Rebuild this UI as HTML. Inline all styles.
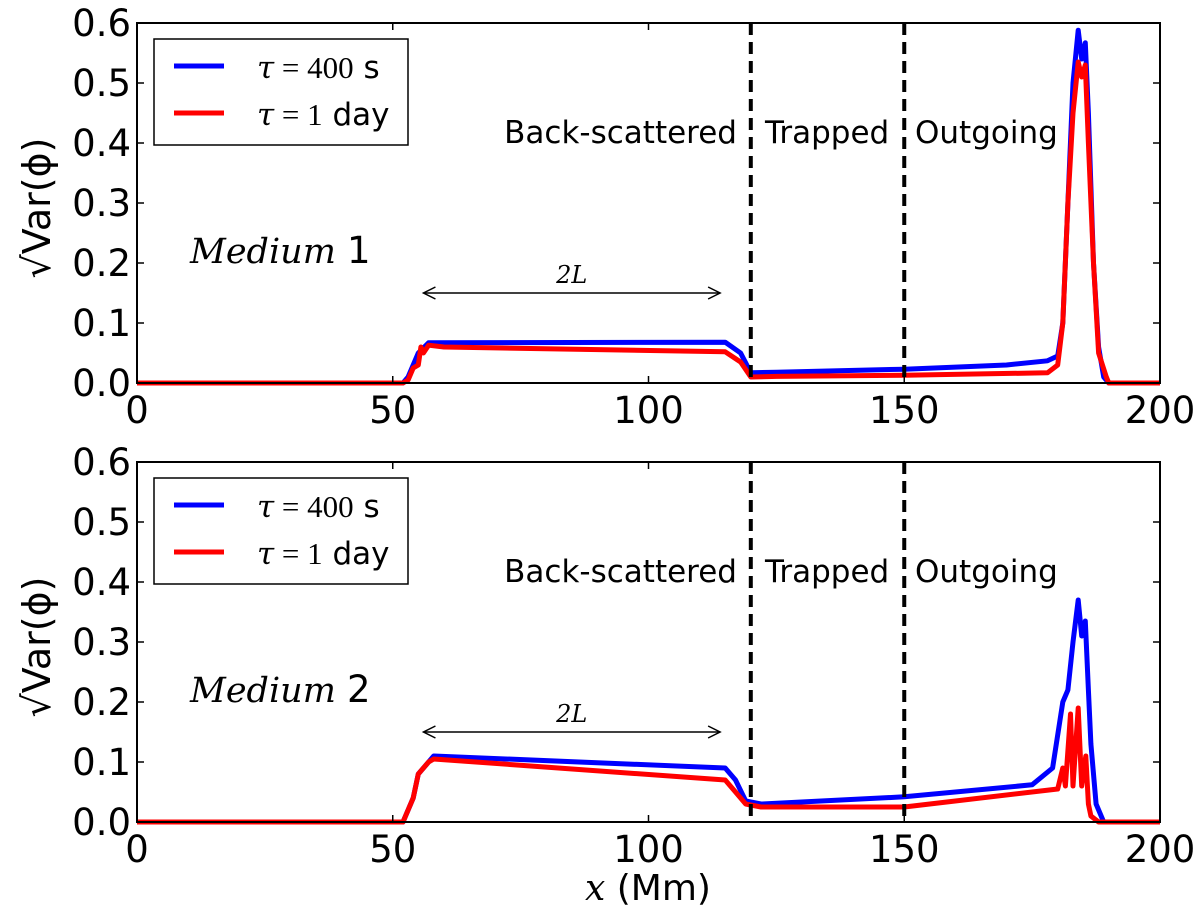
<!DOCTYPE html>
<html><head><meta charset="utf-8"><style>
body{margin:0;background:#fff;}
svg text{font-family:"DejaVu Sans","Liberation Sans",sans-serif;}
.serif{font-family:"DejaVu Serif","Liberation Serif",serif;font-style:italic;}
</style></head><body>
<svg id="chart" width="1200" height="919" xmlns="http://www.w3.org/2000/svg"></svg>
<script>
const xTicks=[0,50,100,150,200];
const yTicks=[0.0,0.1,0.2,0.3,0.4,0.5,0.6];
const regionBounds=[120,150];
const p1BlueX=[0,52,53,55,57,115,118,120,125,150,170,178,180,181,182,183,184,184.7,185.4,186,187,188,189,190,200];
const p1BlueY=[0,0,0.01,0.05,0.067,0.068,0.05,0.017,0.018,0.023,0.03,0.037,0.045,0.1,0.3,0.5,0.588,0.54,0.567,0.45,0.2,0.06,0.01,0,0];
const p1RedX=[0,52,53,54,55,55.5,56,57,60,115,118,120,125,150,178,180,181,182,183,184,184.7,185.4,186,187,188,189.5,190,200];
const p1RedY=[0,0,0.005,0.025,0.03,0.06,0.05,0.063,0.06,0.052,0.035,0.01,0.011,0.013,0.017,0.03,0.1,0.3,0.45,0.535,0.51,0.53,0.4,0.2,0.05,0.01,0,0];
const p2BlueX=[0,52,54,55,57,58,115,117,119,122,150,175,179,181,182,183,184,184.7,185.4,186,186.5,187.5,189,200];
const p2BlueY=[0,0,0.04,0.08,0.1,0.11,0.09,0.07,0.035,0.03,0.042,0.062,0.09,0.2,0.22,0.3,0.37,0.31,0.335,0.22,0.13,0.03,0,0];
const p2RedX=[0,52,54,55,57,58,115,117,119,122,150,180,181,181.5,182.5,183,184,184.7,185.5,186,186.5,188,200];
const p2RedY=[0,0,0.04,0.08,0.1,0.105,0.07,0.05,0.03,0.025,0.025,0.055,0.09,0.06,0.18,0.06,0.19,0.06,0.11,0.03,0.01,0,0];
const panels=[
 {top:23,bottom:383,blueX:p1BlueX,blueY:p1BlueY,redX:p1RedX,redY:p1RedY,label:"1",name:"top"},
 {top:462,bottom:822,blueX:p2BlueX,blueY:p2BlueY,redX:p2RedX,redY:p2RedY,label:"2",name:"bottom"}];
const NS="http://www.w3.org/2000/svg";
const svg=document.getElementById('chart');
const L=137,R=1160;
const sx=v=>L+(v/200)*(R-L);
function mk(tag,attrs,parent,text){const e=document.createElementNS(NS,tag);for(const k in attrs)e.setAttribute(k,attrs[k]);if(text!==undefined)e.textContent=text;(parent||svg).appendChild(e);return e;}
panels.forEach(p=>{
 const sy=v=>p.bottom-(v/0.6)*(p.bottom-p.top);
 const g=mk('g',{});
 
 
 const line=(xs,ys,col,nm)=>{const d=xs.map((x,i)=>(i?'L':'M')+sx(x).toFixed(1)+','+sy(ys[i]).toFixed(1)).join('');
  const e=mk('path',{d:d,fill:'none',stroke:col,'stroke-width':5,'stroke-linejoin':'round'},g);
  
  };
 line(p.blueX,p.blueY,'#0000ff','series-tau-400s');
 line(p.redX,p.redY,'#ff0000','series-tau-1day');
 regionBounds.forEach(b=>{const e=mk('line',{x1:sx(b),x2:sx(b),y1:p.top,y2:p.bottom,stroke:'#000','stroke-width':4,'stroke-dasharray':'12,7'},g);
  
  });
 const fr=mk('rect',{x:L,y:p.top,width:R-L,height:p.bottom-p.top,fill:'none',stroke:'#000','stroke-width':2},g);
 
 
 xTicks.forEach(t=>{mk('line',{x1:sx(t),x2:sx(t),y1:p.bottom,y2:p.bottom-7,stroke:'#000','stroke-width':1.5},g);mk('line',{x1:sx(t),x2:sx(t),y1:p.top,y2:p.top+7,stroke:'#000','stroke-width':1.5},g);
  const e=mk('text',{x:sx(t),y:p.bottom+40,'font-size':37,'text-anchor':'middle'},g,String(t));
  
  });
 yTicks.forEach(t=>{mk('line',{x1:L,x2:L+7,y1:sy(t),y2:sy(t),stroke:'#000','stroke-width':1.5},g);mk('line',{x1:R,x2:R-7,y1:sy(t),y2:sy(t),stroke:'#000','stroke-width':1.5},g);
  const e=mk('text',{x:L-6,y:sy(t)+13,'font-size':37,'text-anchor':'end'},g,t.toFixed(1));
  
  });
 const yl=mk('text',{x:0,y:0,'font-size':38,transform:`translate(50,${(p.top+p.bottom)/2+5}) rotate(-90)`,'text-anchor':'middle','font-family':'Liberation Serif, serif'},g,'√Var(ϕ)');
 
 
 const ty=p.top+120;
 [['Back-scattered',737,'end'],['Trapped',765,'start'],['Outgoing',915,'start']].forEach(a=>{const e=mk('text',{x:a[1],y:ty,'font-size':31,'text-anchor':a[2]},g,a[0]);
  
  });
 const m=mk('text',{x:190,y:p.top+240,'font-size':35},g);
 
 
 mk('tspan',{class:'serif','font-family':'Liberation Serif, serif','font-style':'italic'},m,'Medium ');
 mk('tspan',{'font-size':37},m,p.label);
 const ay=sy(0.15);
 const ar=mk('g',{stroke:'#000','stroke-width':1.5,fill:'none'},g);
 
 
 mk('line',{x1:sx(56),x2:sx(114),y1:ay,y2:ay},ar);
 mk('path',{d:`M${sx(56)+12},${ay-6}L${sx(56)},${ay}L${sx(56)+12},${ay+6}M${sx(114)-12},${ay-6}L${sx(114)},${ay}L${sx(114)-12},${ay+6}`},ar);
 const al=mk('text',{x:sx(85),y:ay-10,'font-size':24,'text-anchor':'middle',class:'serif'},g,'2L');
 
 
 const lg=mk('g',{},g);
 
 
 mk('rect',{x:154,y:p.top+16,width:254,height:106,fill:'#fff',stroke:'#000','stroke-width':1.5},lg);
 mk('line',{x1:174,x2:224,y1:p.top+43,y2:p.top+43,stroke:'#0000ff','stroke-width':5},lg);
 mk('line',{x1:174,x2:224,y1:p.top+90,y2:p.top+90,stroke:'#ff0000','stroke-width':5},lg);
 const t1=mk('text',{x:257,y:p.top+55,'font-size':31},lg);
 
 
 mk('tspan',{class:'serif'},t1,'τ');mk('tspan',{'font-family':'Liberation Serif, serif'},t1,' = 400');mk('tspan',{},t1,' s');
 const t2=mk('text',{x:257,y:p.top+102,'font-size':31},lg);
 
 
 mk('tspan',{class:'serif'},t2,'τ');mk('tspan',{'font-family':'Liberation Serif, serif'},t2,' = 1');mk('tspan',{},t2,' day');
});
const xl=mk('text',{x:648,y:900,'font-size':36,'text-anchor':'middle'});


mk('tspan',{class:'serif'},xl,'x');mk('tspan',{},xl,' (Mm)');
</script>
</body></html>
